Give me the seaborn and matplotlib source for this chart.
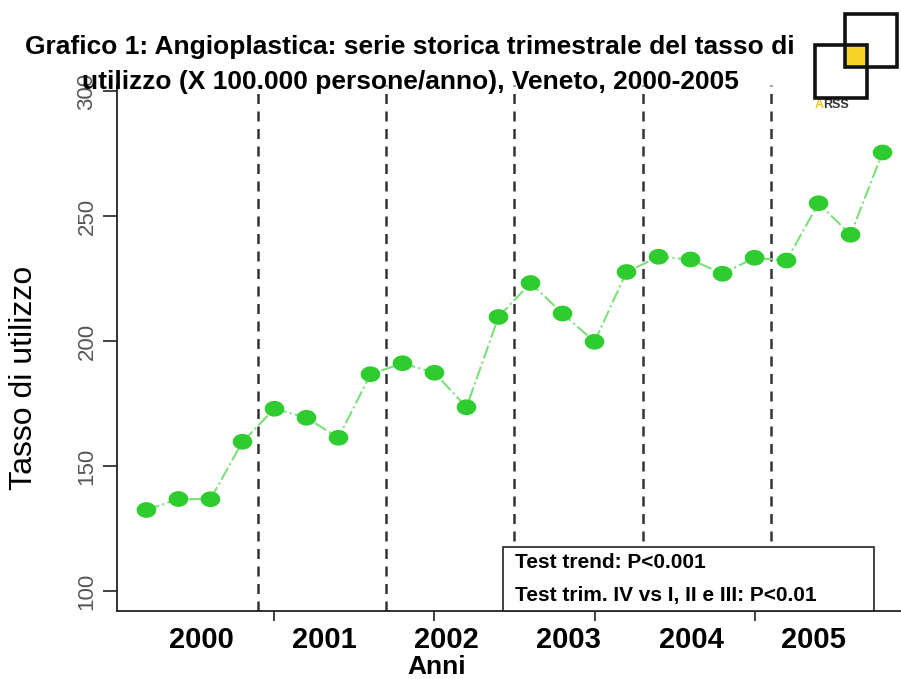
import numpy as np
import pandas as pd
import matplotlib
matplotlib.use("Agg")
import matplotlib.pyplot as plt
from matplotlib.patches import Rectangle
from matplotlib.path import Path
import seaborn as sns

# Dati: tasso trimestrale di angioplastica (x 100.000 persone/anno), Veneto
trimestre = list(range(1, 25))
tasso = [132.4, 136.8, 136.7, 159.7,
         172.9, 169.3, 161.3, 186.7,
         191.1, 187.3, 173.5, 209.6,
         223.2, 211.0, 199.7, 227.6,
         233.7, 232.6, 226.9, 233.3,
         232.2, 255.1, 242.5, 275.4]
anni = ["2000", "2001", "2002", "2003", "2004", "2005"]
y_ticks = [100, 150, 200, 250, 300]
test_lines = ["Test trend: P<0.001", "Test trim. IV vs I, II e III: P<0.01"]
titolo = ["Grafico 1: Angioplastica: serie storica trimestrale del tasso di",
          "utilizzo (X 100.000 persone/anno), Veneto, 2000-2005"]

df = pd.DataFrame({"trimestre": trimestre, "tasso": tasso})

sns.set_style("ticks")
plt.rcParams["font.family"] = ["Liberation Sans", "DejaVu Sans"]
plt.rcParams["text.color"] = "black"
plt.rcParams["xtick.color"] = "black"
plt.rcParams["ytick.color"] = "black"

W, H = 901, 679
fig = plt.figure(figsize=(W / 100, H / 100), dpi=100)
ax = fig.add_axes([117 / W, 1 - 611 / H, 795 / W, 526 / H])

# marcatore ellittico (più largo che alto, come nel grafico originale)
t = np.linspace(0, 2 * np.pi, 60)
ellisse = Path(np.column_stack([np.cos(t), 0.8 * np.sin(t)]), closed=True)

# linea tratto-punto e punti
sns.lineplot(data=df, x="trimestre", y="tasso", ax=ax, color="#7ae07a",
             linestyle="-.", linewidth=1.5, zorder=2)
sns.scatterplot(data=df, x="trimestre", y="tasso", ax=ax, color="#2ecc2e",
                marker=ellisse, s=200, edgecolor="none", zorder=3)

# separatori tra gli anni
for k in range(1, len(anni)):
    ax.axvline(4 * k + 0.5, color="#333333", linestyle=(0, (4, 3)),
               linewidth=1.8, zorder=1)

ax.set_xlim(0.08, 24.92)
ax.set_ylim(92, 302.4)
sns.despine(ax=ax)
for s in ["left", "bottom"]:
    ax.spines[s].set_linewidth(1.3)
    ax.spines[s].set_color("#222222")

ax.set_yticks(y_ticks)
ax.set_yticklabels([str(v) for v in y_ticks], rotation=90, va="center",
                   fontsize=16, color="#555555")
ax.tick_params(axis="y", length=10, width=1.2, color="#222222", pad=4)

ax.set_xticks([5, 10, 15, 20])
ax.set_xticklabels([])
ax.tick_params(axis="x", which="major", length=7, width=1.2, color="#222222")
ax.set_xticks([2.72 + 3.825 * i for i in range(len(anni))], minor=True)
ax.set_xticklabels(anni, minor=True, fontsize=21, fontweight="bold",
                   color="black")
ax.tick_params(axis="x", which="minor", length=0, pad=11)

ax.set_xlabel("")
ax.set_ylabel("")

# riquadro con i test
fig.patches.append(Rectangle((503 / W, 1 - 611 / H), 371 / W, 64 / H,
                             transform=fig.transFigure, facecolor="white",
                             edgecolor="#222222", linewidth=1.2, zorder=4))
fig.text(515 / W, 1 - 563 / H, test_lines[0], fontsize=15, fontweight="bold",
         va="center", ha="left", zorder=5)
fig.text(515 / W, 1 - 595 / H, test_lines[1], fontsize=15, fontweight="bold",
         va="center", ha="left", zorder=5)

# etichette degli assi
fig.text(24 / W, 1 - 378 / H, "Tasso di utilizzo", rotation=90, fontsize=23,
         ha="center", va="center")
fig.text(437 / W, 1 - 667 / H, "Anni", fontsize=19, fontweight="bold",
         ha="center", va="center")

# titolo
fig.text(410 / W, 1 - 47 / H, titolo[0], fontsize=19, fontweight="bold",
         ha="center", va="center", zorder=6)
fig.text(410 / W, 1 - 82 / H, titolo[1], fontsize=19, fontweight="bold",
         ha="center", va="center", zorder=6)

# logo ARSS
fig.patches.append(Rectangle((845 / W, 1 - 67 / H), 22 / W, 22 / H,
                             transform=fig.transFigure, facecolor="#f5d327",
                             edgecolor="none", zorder=6))
for x0, y0, x1, y1 in [(845, 14, 897, 67), (815, 45, 867, 98)]:
    fig.patches.append(Rectangle((x0 / W, 1 - y1 / H), (x1 - x0) / W,
                                 (y1 - y0) / H, transform=fig.transFigure,
                                 facecolor="none", edgecolor="#111111",
                                 linewidth=2.6, zorder=7))
fig.text(815 / W, 1 - 105 / H, "A", fontsize=9, fontweight="bold",
         color="#f0c419", ha="left", va="center")
fig.text(823 / W, 1 - 105 / H, "RSS", fontsize=9, fontweight="bold",
         color="#333333", ha="left", va="center")

fig.savefig("out.png", dpi=100)
